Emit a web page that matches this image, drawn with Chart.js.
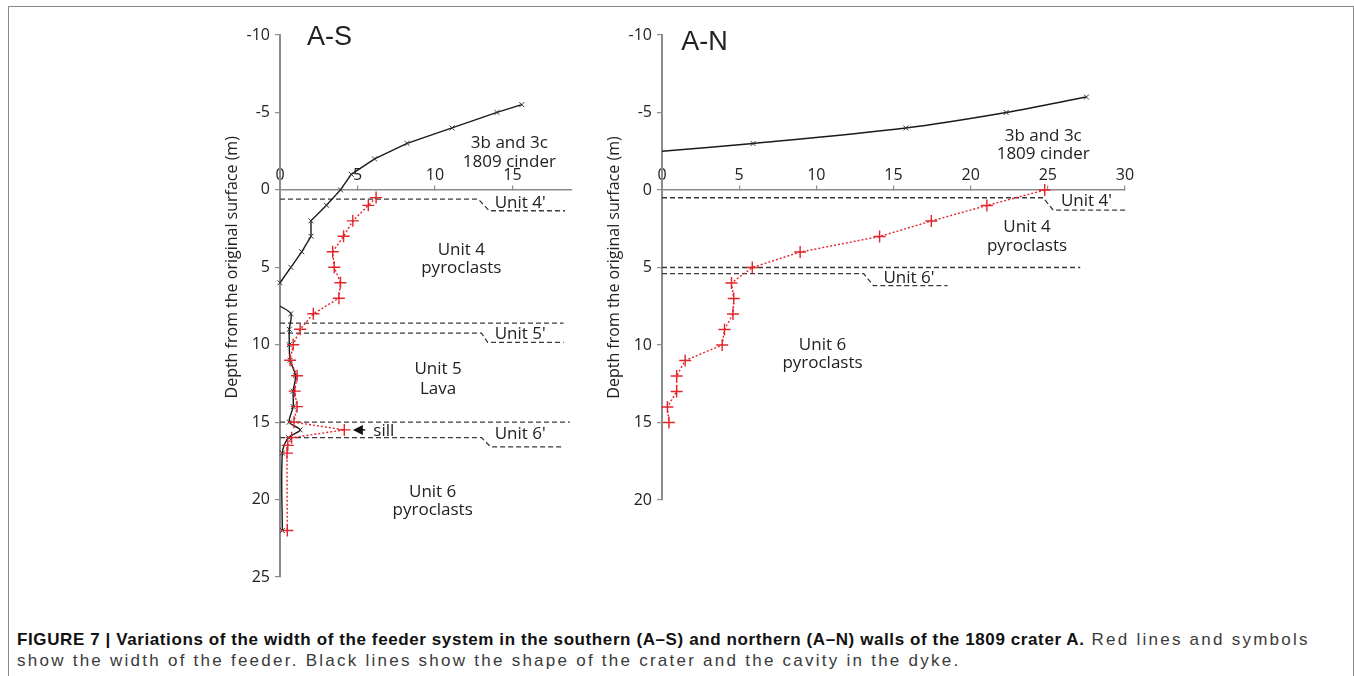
<!DOCTYPE html>
<html>
<head>
<meta charset="utf-8">
<script src="https://cdn.jsdelivr.net/npm/chart.js@4.4.1/dist/chart.umd.min.js"></script>
<style>
  html,body{margin:0;padding:0;background:#fff;}
  body{width:1354px;height:676px;position:relative;overflow:hidden;}
  .frame{position:absolute;left:8px;top:6px;width:1346px;height:700px;box-sizing:border-box;border:1px solid #8a8a8a;border-bottom:none;}
  #chartS{position:absolute;left:200px;top:0;}
  #chartN{position:absolute;left:600px;top:0;}
  .cap{position:absolute;left:17px;top:629px;width:1330px;white-space:nowrap;font-family:'Liberation Sans',Arial,sans-serif;font-size:17px;line-height:21px;color:#3a3a3a;letter-spacing:2.25px;}
  .cap b{color:#111;letter-spacing:0.6px;}
</style>
</head>
<body>
<div class="frame"></div>
<canvas id="chartS" width="400" height="600"></canvas>
<canvas id="chartN" width="560" height="530"></canvas>
<div class="cap"><b>FIGURE 7 | Variations of the width of the feeder system in the southern (A–S) and northern (A–N) walls of the 1809 crater A.</b> Red lines and symbols<br>show the width of the feeder. Black lines show the shape of the crater and the cavity in the dyke.</div>
<script>
'use strict';

// ── Data: x = width (m), y = depth from the original surface (m) ────────────────
// A-S wall
const asCraterDepth=[-5.5,-5,-4,-3,-2,-1,0,1,2,3,4,5,6];
const asCraterWidth=[15.6,14.0,11.1,8.2,6.1,4.6,3.9,3.0,2.0,2.0,1.4,0.7,0];
const asCavityDepth=[7.5,8,9,10,11,12,13,14,15,15.5,16,17,22];
const asCavityWidth=[0,0.7,0.6,0.6,0.65,1.0,0.85,0.85,0.6,1.3,0.55,0.15,0.15];
const asFeederDepth=[0.5,1,2,3,4,5,6,7,8,9,10,11,12,13,14,15,15.5,16,16.5,17,22];
const asFeederWidth=[6.2,5.7,4.7,4.1,3.4,3.5,3.9,3.8,2.15,1.3,0.85,0.65,1.1,0.95,1.1,0.9,4.15,0.75,0.5,0.45,0.47];
// unit boundaries as [width, depth]
const asUnit4=[[0,0.6],[12.8,0.6],[13.5,1.35],[18.4,1.35]];
const asUnit5a=[[0,8.6],[18.3,8.6]];
const asUnit5b=[[0,9.25],[13.0,9.25],[13.4,9.85],[18.3,9.85]];
const asUnit6a=[[0,15.0],[18.7,15.0]];
const asUnit6b=[[0,16.0],[13.0,16.0],[13.6,16.6],[18.2,16.6]];
const asWidthTicks=[0,5,10,15];
const asDepthTicks=[-10,-5,0,5,10,15,20,25];

// A-N wall
const anCraterDepth=[-2.5,-3,-4,-5,-6];
const anCraterWidth=[0,5.9,15.8,22.3,27.5];
const anFeederDepth=[0,1,2,3,4,5,6,7,8,9,10,11,12,13,14,15];
const anFeederWidth=[24.8,21.05,17.45,14.1,8.95,5.85,4.5,4.65,4.6,4.05,3.9,1.5,0.95,0.95,0.35,0.45];
const anUnit4=[[0,0.5],[24.7,0.5],[25.35,1.3],[30.2,1.3]];
const anUnit6a=[[0,5.0],[27.1,5.0]];
const anUnit6b=[[0,5.4],[13.07,5.4],[13.7,6.17],[18.5,6.17]];
const anWidthTicks=[0,5,10,15,20,25,30];
const anDepthTicks=[-10,-5,0,5,10,15,20];

const Y_TITLE='Depth from the original surface (m)';

// ── helpers ─────────────────────────────────────────────────────────────────
const pts=(xs,ys)=>xs.map((v,i)=>({x:v,y:ys[i]}));
const line=arr=>arr.map(([x,y])=>({x,y}));
const tickFont={family:"'Open Sans',sans-serif",size:16};
const AXIS='#8c8c8c', RED='#e3242b';

function crater(data,hideFirst){
  return {data,showLine:true,borderColor:'#1a1a1a',borderWidth:1.4,tension:hideFirst?0.3:0,
    pointStyle:'crossRot',pointRadius:c=>hideFirst&&c.dataIndex===0?0:3.5,
    pointBorderColor:'#333',pointBorderWidth:1,clip:false,order:2};
}
function feeder(data){
  return {data,showLine:true,borderColor:RED,borderWidth:1.4,borderDash:[2,2],
    pointStyle:'cross',pointRadius:6,pointBorderColor:RED,pointBorderWidth:1.4,clip:false,order:1};
}
function boundary(data){
  return {data,showLine:true,borderColor:'#3a3a3a',borderWidth:1.3,borderDash:[5,3],pointRadius:0,clip:false,order:3};
}

function xScale(max,ticks){
  return {type:'linear',position:{y:0},min:0,max,
    border:{color:AXIS,width:1.5},
    grid:{drawOnChartArea:false,drawTicks:true,tickLength:-5,color:AXIS,lineWidth:1.2},
    afterBuildTicks:s=>{s.ticks=ticks.map(v=>({value:v}));},
    ticks:{padding:-19,color:'#222',font:tickFont}};
}
function yScale(min,max,ticks,w){
  return {type:'linear',position:'left',reverse:true,min,max,
    border:{color:AXIS,width:2},
    grid:{drawOnChartArea:false,drawTicks:true,tickLength:5,color:AXIS,lineWidth:1.2},
    afterBuildTicks:s=>{s.ticks=ticks.map(v=>({value:v}));},
    afterFit:s=>{s.width=w;},
    ticks:{padding:5,color:'#222',font:tickFont}};
}

// text notes, axis title and the sill arrow, placed in data units
function notes(items,arrow){
  return {id:'notes',afterDatasetsDraw(chart){
    const {ctx,chartArea,scales:{x,y}}=chart;
    ctx.save();
    ctx.fillStyle='#222'; ctx.textAlign='center'; ctx.textBaseline='middle';
    items.forEach(n=>{
      ctx.font=n.big?"27px 'Liberation Sans',Arial,sans-serif":"17px 'Open Sans',sans-serif";
      ctx.fillText(n.t,x.getPixelForValue(n.x),y.getPixelForValue(n.y));
    });
    ctx.translate(chartArea.left-48,y.getPixelForValue(5));
    ctx.rotate(-Math.PI/2);
    ctx.font="16px 'Open Sans',sans-serif";
    ctx.fillText(Y_TITLE,0,0);
    ctx.restore();
    if(arrow){
      const tx=x.getPixelForValue(arrow.x), ty=y.getPixelForValue(arrow.y), ex=x.getPixelForValue(arrow.x2);
      ctx.save();
      ctx.fillStyle='#111'; ctx.strokeStyle='#111'; ctx.lineWidth=1.5;
      ctx.beginPath(); ctx.moveTo(tx,ty); ctx.lineTo(tx+10,ty-5); ctx.lineTo(tx+10,ty+5); ctx.closePath(); ctx.fill();
      ctx.beginPath(); ctx.moveTo(tx+9,ty); ctx.lineTo(ex,ty); ctx.stroke();
      ctx.restore();
    }
  }};
}

const base={responsive:false,animation:false,events:[],
  plugins:{legend:{display:false},tooltip:{enabled:false}}};

// ── A-S ─────────────────────────────────────────────────────────────────────
new Chart(document.getElementById('chartS'),{type:'scatter',
  data:{datasets:[
    feeder(pts(asFeederWidth,asFeederDepth)),
    crater(pts(asCraterWidth,asCraterDepth),false),
    crater(pts(asCavityWidth,asCavityDepth),true),
    boundary(line(asUnit4)),boundary(line(asUnit5a)),boundary(line(asUnit5b)),
    boundary(line(asUnit6a)),boundary(line(asUnit6b))
  ]},
  options:{...base,layout:{padding:{left:0,top:35,right:28,bottom:23}},
    scales:{x:xScale(18.84,asWidthTicks),y:yScale(-10,25,asDepthTicks,80)}},
  plugins:[notes([
    {t:'A-S',x:3.2,y:-9.85,big:true},
    {t:'3b and 3c',x:14.8,y:-3.0},{t:'1809 cinder',x:14.8,y:-1.8},
    {t:"Unit 4'",x:15.5,y:0.85},
    {t:'Unit 4',x:11.7,y:3.9},{t:'pyroclasts',x:11.7,y:5.05},
    {t:"Unit 5'",x:15.5,y:9.35},
    {t:'Unit 5',x:10.2,y:11.6},{t:'Lava',x:10.2,y:12.9},
    {t:'sill',x:6.7,y:15.6},
    {t:"Unit 6'",x:15.5,y:15.8},
    {t:'Unit 6',x:9.85,y:19.5},{t:'pyroclasts',x:9.85,y:20.7}
  ],{x:4.7,y:15.5,x2:5.5})]
});

// ── A-N ─────────────────────────────────────────────────────────────────────
new Chart(document.getElementById('chartN'),{type:'scatter',
  data:{datasets:[
    feeder(pts(anFeederWidth,anFeederDepth)),
    crater(pts(anCraterWidth,anCraterDepth),true),
    boundary(line(anUnit4)),boundary(line(anUnit6a)),boundary(line(anUnit6b))
  ]},
  options:{...base,layout:{padding:{left:0,top:35,right:35,bottom:30}},
    scales:{x:xScale(30,anWidthTicks),y:yScale(-10,20,anDepthTicks,62)}},
  plugins:[notes([
    {t:'A-N',x:2.75,y:-9.5,big:true},
    {t:'3b and 3c',x:24.7,y:-3.5},{t:'1809 cinder',x:24.7,y:-2.3},
    {t:"Unit 4'",x:27.5,y:0.75},
    {t:'Unit 4',x:23.65,y:2.4},{t:'pyroclasts',x:23.65,y:3.6},
    {t:"Unit 6'",x:16.0,y:5.7},
    {t:'Unit 6',x:10.4,y:10.0},{t:'pyroclasts',x:10.4,y:11.2}
  ],null)]
});
</script>
</body>
</html>
